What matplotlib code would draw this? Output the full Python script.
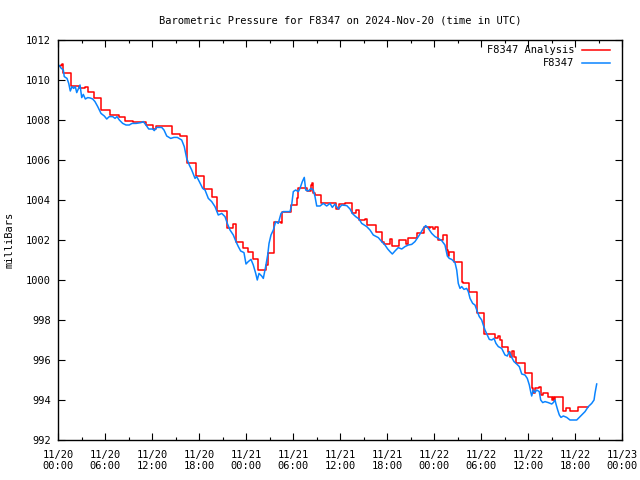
import matplotlib
matplotlib.use("Agg")
import matplotlib.pyplot as plt
import matplotlib.dates as mdates
import numpy as np
from datetime import datetime, timedelta

title = "Barometric Pressure for F8347 on 2024-Nov-20 (time in UTC)"
ylabel = "milliBars"
start = datetime(2024, 11, 20, 0, 0)

# F8347 observations: hours since 2024-11-20 00:00 UTC, pressure (mb)
obs_hours = [0.17, 0.38, 0.68, 0.80, 1.15, 1.37, 1.57, 1.79, 2.00, 2.21, 2.39, 2.59, 2.81, 3.03, 3.23,
             3.49, 3.79, 4.12, 4.43, 4.72, 5.07, 5.49, 5.91, 6.22, 6.55, 6.98, 7.28, 7.53, 7.83, 8.26,
             8.68, 9.10, 9.45, 9.96, 10.60, 10.89, 11.23, 11.58, 12.09, 12.29, 12.60, 13.24, 13.53,
             13.88, 14.39, 14.81, 15.23, 15.79, 16.12, 16.43, 16.76, 17.07, 17.49, 17.71, 18.04,
             18.47, 18.77, 19.19, 19.62, 20.04, 20.46, 20.90, 21.32, 21.61, 21.96, 22.38, 22.72,
             23.02, 23.32, 23.74, 24.00, 24.29, 24.64, 24.93, 25.24, 25.44, 25.66, 26.00, 26.21,
             26.51, 26.77, 26.94, 27.19, 27.49, 27.79, 28.12, 28.47, 28.76, 29.62, 29.83, 30.04,
             30.34, 30.68, 30.89, 31.19, 31.44, 31.62, 31.95, 32.30, 32.59, 32.81, 33.03, 33.45,
             33.87, 34.30, 34.72, 35.02, 35.36, 35.78, 36.22, 36.86, 37.28, 37.57, 38.00, 38.43,
             38.77, 39.41, 39.83, 40.25, 40.89, 41.32, 41.74, 42.09, 42.38, 42.68, 43.02, 43.44,
             43.88, 44.30, 44.72, 45.15, 45.57, 46.00, 46.34, 46.63, 46.94, 47.27, 47.71, 48.13,
             48.55, 48.98, 49.40, 49.70, 49.95, 50.26, 50.68, 50.90, 51.10, 51.32, 51.54, 51.83,
             52.17, 52.38, 52.60, 52.94, 53.23, 53.53, 53.78, 54.09, 54.29, 54.51, 54.80, 55.06,
             55.37, 55.66, 55.91, 56.21, 56.64, 57.06, 57.36, 57.61, 57.92, 58.21, 58.56, 58.89,
             59.20, 59.62, 59.91, 60.17, 60.34, 60.47, 60.68, 60.89, 61.11, 61.44, 61.62, 61.88,
             62.17, 62.59, 63.03, 63.23, 63.45, 63.57, 63.79, 64.00, 64.21, 64.51, 64.94, 65.36,
             66.22, 66.55, 66.98, 67.28, 67.70, 68.13, 68.43, 68.55, 68.77]
obs_mb = [1010.72, 1010.60, 1010.50, 1010.17, 1010.08, 1009.83, 1009.45, 1009.67, 1009.58, 1009.67,
          1009.37, 1009.55, 1009.75, 1009.12, 1009.28, 1009.05, 1009.12, 1009.10, 1009.05, 1008.92,
          1008.67, 1008.33, 1008.20, 1008.05, 1008.17, 1008.17, 1008.08, 1008.17, 1008.00, 1007.83,
          1007.75, 1007.75, 1007.83, 1007.83, 1007.87, 1007.92, 1007.75, 1007.55, 1007.55, 1007.47,
          1007.63, 1007.63, 1007.50, 1007.20, 1007.08, 1007.13, 1007.13, 1007.00, 1006.67, 1006.08,
          1005.75, 1005.50, 1005.08, 1005.17, 1004.92, 1004.58, 1004.50, 1004.08, 1003.92, 1003.67,
          1003.25, 1003.33, 1003.17, 1002.83, 1002.50, 1002.25, 1001.92, 1001.67, 1001.45, 1001.37,
          1000.80, 1000.92, 1001.03, 1000.75, 1000.33, 1000.00, 1000.33, 1000.20, 1000.08, 1000.67,
          1001.25, 1001.83, 1002.25, 1002.50, 1002.92, 1002.83, 1003.33, 1003.42, 1003.42, 1003.75,
          1004.42, 1004.50, 1004.42, 1004.58, 1004.92, 1005.13, 1004.50, 1004.45, 1004.58, 1004.50,
          1004.17, 1003.70, 1003.70, 1003.83, 1003.70, 1003.83, 1003.63, 1003.80, 1003.55, 1003.75,
          1003.72, 1003.55, 1003.33, 1003.17, 1003.05, 1002.83, 1002.67, 1002.50, 1002.25, 1002.12,
          1001.92, 1001.75, 1001.55, 1001.42, 1001.30, 1001.45, 1001.62, 1001.55, 1001.67, 1001.75,
          1001.78, 1001.92, 1002.17, 1002.38, 1002.58, 1002.72, 1002.58, 1002.33, 1002.17, 1002.08,
          1001.97, 1001.75, 1001.20, 1001.08, 1001.03, 1000.87, 1000.50, 999.83, 999.58, 999.67,
          999.53, 999.58, 999.42, 999.08, 998.83, 998.75, 998.42, 998.17, 998.00, 997.75, 997.50,
          997.25, 997.03, 997.00, 997.08, 996.83, 996.67, 996.58, 996.25, 996.20, 996.42, 996.13,
          995.92, 995.80, 995.67, 995.30, 995.25, 995.08, 994.75, 994.42, 994.20, 994.50, 994.37,
          994.50, 994.42, 994.00, 993.87, 993.92, 993.87, 993.80, 993.87, 994.00, 993.80, 993.50,
          993.25, 993.13, 993.20, 993.13, 993.00, 993.00, 993.13, 993.30, 993.42, 993.67, 993.83,
          994.00, 994.33, 994.80]

# F8347 Analysis (step values)
ana_hours = [0.00, 0.38, 0.51, 0.68, 1.66, 2.72, 3.49, 3.79, 4.63, 5.49, 6.64, 7.83, 8.55, 9.61,
             11.23, 12.09, 12.51, 14.52, 15.57, 16.51, 17.58, 18.64, 19.62, 20.34, 21.54, 22.38,
             22.72, 23.58, 24.29, 24.93, 25.57, 26.51, 26.77, 27.61, 28.47, 28.63, 29.71, 30.47,
             30.60, 31.75, 32.30, 32.46, 32.59, 32.81, 33.57, 35.55, 35.87, 36.64, 37.49, 38.00,
             38.43, 39.19, 39.49, 40.56, 41.40, 41.66, 42.38, 42.68, 43.53, 44.39, 44.72, 45.79,
             46.76, 47.36, 47.49, 47.83, 48.13, 48.55, 49.19, 49.62, 49.83, 49.95, 50.55, 51.54,
             51.74, 52.51, 53.45, 54.38, 55.79, 56.21, 56.43, 56.64, 57.48, 57.70, 57.96, 58.21,
             58.47, 59.62, 60.47, 60.64, 60.89, 61.44, 61.62, 61.91, 62.59, 63.03, 63.15, 63.32,
             63.45, 64.43, 64.85, 65.36, 66.42, 67.70]
ana_mb = [1010.72, 1010.75, 1010.78, 1010.33, 1009.70, 1009.58, 1009.65, 1009.38, 1009.12, 1008.50,
          1008.25, 1008.13, 1007.95, 1007.88, 1007.73, 1007.55, 1007.70, 1007.30, 1007.20, 1005.83,
          1005.20, 1004.55, 1004.13, 1003.47, 1002.58, 1002.80, 1001.92, 1001.58, 1001.42, 1001.03,
          1000.50, 1000.75, 1001.33, 1002.92, 1002.83, 1003.42, 1003.75, 1004.08, 1004.58, 1004.45,
          1004.75, 1004.87, 1004.33, 1004.25, 1003.83, 1003.55, 1003.78, 1003.83, 1003.33, 1003.50,
          1003.00, 1003.05, 1002.75, 1002.42, 1001.92, 1001.80, 1002.05, 1001.70, 1002.00, 1001.80,
          1002.12, 1002.33, 1002.67, 1002.58, 1002.63, 1002.55, 1002.63, 1002.00, 1002.25, 1001.50,
          1001.20, 1001.42, 1000.92, 999.92, 999.83, 999.42, 998.33, 997.30, 997.08, 997.20, 997.00,
          996.67, 996.42, 996.17, 996.45, 996.17, 995.87, 995.33, 994.58, 994.37, 994.62, 994.67,
          994.25, 994.37, 994.17, 994.00, 994.13, 994.00, 994.15, 993.47, 993.58, 993.47, 993.67,
          993.67]

ana_label = "F8347 Analysis"
obs_label = "F8347"

to_dt = lambda hrs: [start + timedelta(hours=h) for h in hrs]

plt.rcParams['font.family'] = ['DejaVu Sans Mono']
fig = plt.figure(figsize=(6.4, 4.8), dpi=100)
ax = fig.add_axes([58/640, 40/480, 564/640, 400/480])

ax.plot(to_dt(ana_hours), ana_mb, color='#ff0000', lw=1.1, drawstyle='steps-post', label=ana_label)
ax.plot(to_dt(obs_hours), obs_mb, color='#0a84ff', lw=1.1, label=obs_label)

ax.set_xlim(start, start + timedelta(hours=72))
ax.set_ylim(992, 1012)
ax.set_yticks(np.arange(992, 1013, 2))
ax.xaxis.set_major_locator(mdates.HourLocator(byhour=[0, 6, 12, 18]))
ax.xaxis.set_minor_locator(mdates.HourLocator(byhour=[3, 9, 15, 21]))
ax.xaxis.set_major_formatter(mdates.DateFormatter('%m/%d\n%H:%M'))

ax.tick_params(which='both', direction='in', top=True, right=True, labelsize=7.5, colors='black')
ax.tick_params(which='major', length=5, width=0.8, pad=5)
ax.tick_params(axis='x', which='major', pad=7)
ax.tick_params(which='minor', length=2.5, width=0.8)
for s in ax.spines.values():
    s.set_linewidth(1.0)
    s.set_color('black')

ax.set_title(title, fontsize=7.5, pad=12)
ax.set_ylabel(ylabel, fontsize=7.5, labelpad=8)

leg = ax.legend(loc='upper right', bbox_to_anchor=(0.988, 1.0), frameon=False, fontsize=7.5,
                handlelength=2.7, markerfirst=False, borderaxespad=0.1, labelspacing=0.3,
                handletextpad=0.7)
for t in leg.get_texts():
    t.set_ha('right')

fig.savefig('out.png', dpi=100)
